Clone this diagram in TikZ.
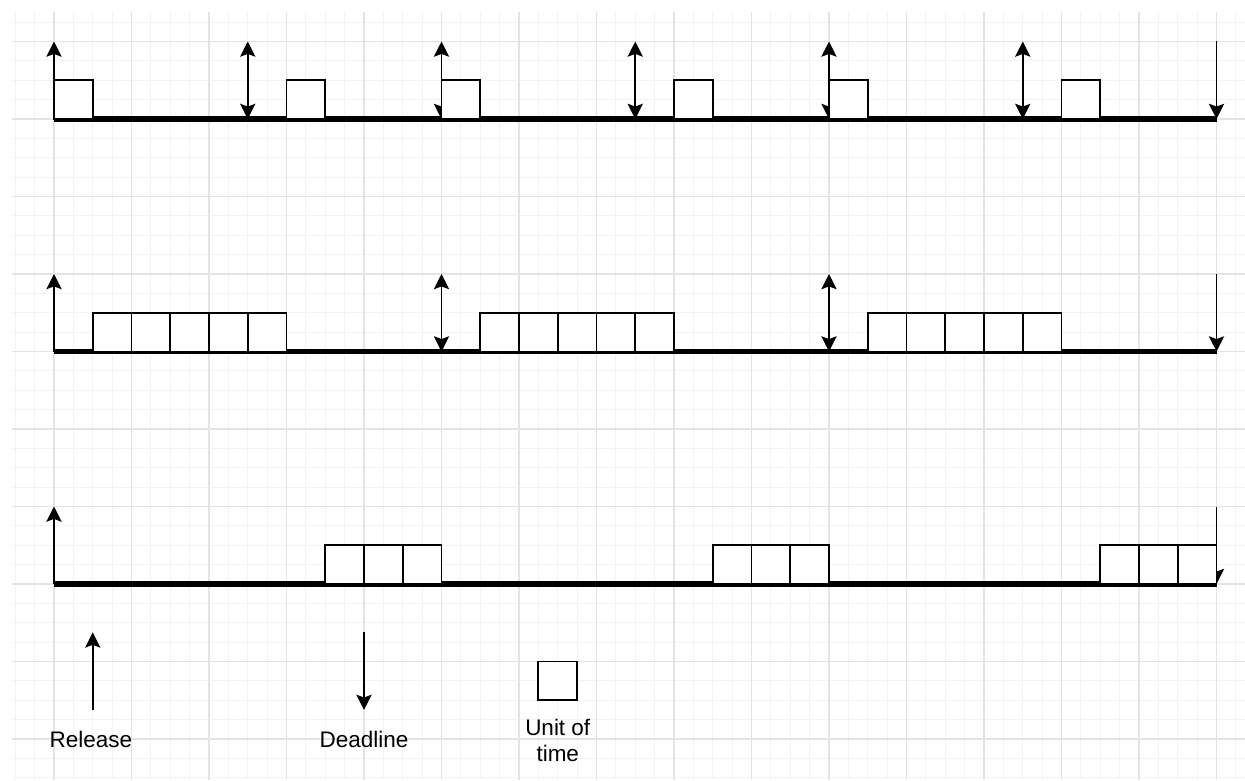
\documentclass[tikz,border=0pt]{standalone}
\usepackage{fontspec}
\setmainfont{Liberation Sans}
\usetikzlibrary{arrows.meta}
\definecolor{gmaj}{HTML}{E4E4E4}
\definecolor{gmin}{HTML}{F3F3F3}
\begin{document}
\begin{tikzpicture}[x=0.96875cm,y=0.96875cm,
  minorgrid/.style={draw=gmin, line width=0.025cm},
  majorgrid/.style={draw=gmaj, line width=0.03cm},
  axisline/.style={line width=0.13cm},
  tick/.style={line width=0.045cm, -{Stealth[length=0.38cm,width=0.38cm,inset=0.07cm]}},
  dtick/.style={line width=0.045cm, {Stealth[length=0.38cm,width=0.38cm,inset=0.07cm]}-{Stealth[length=0.38cm,width=0.38cm,inset=0.07cm]}},
  unitbox/.style={draw=black, fill=white, line width=0.045cm},
  lbl/.style={font=\fontsize{16}{19}\selectfont, anchor=base, inner sep=0pt, text=black}]
\useasboundingbox (-1.3935,-17.058) rectangle (30.735,3.071);
\fill[white] (-1.3935,-17.058) rectangle (30.735,3.071);
% grid
\draw[minorgrid] (-1.0839,-17.058) grid[step=0.5] (30.735,2.7613);
\draw[majorgrid] (-1.0839,-17.058) grid[step=2] (30.735,2.7613);
% ---- row 1
\draw[axisline] (0,0) -- (30,0);
\draw[tick] (0,0) -- (0,2);
\foreach \t in {5,10,15,20,25} \draw[dtick] (\t,0) -- (\t,2);
\draw[tick] (30,2) -- (30,0);
\foreach \t in {0,6,10,16,20,26} \draw[unitbox] (\t,0) rectangle ++(1,1);
% ---- row 2
\draw[axisline] (0,-6) -- (30,-6);
\draw[tick] (0,-6) -- (0,-4);
\foreach \t in {10,20} \draw[dtick] (\t,-6) -- (\t,-4);
\draw[tick] (30,-4) -- (30,-6);
\foreach \t in {1,2,3,4,5,11,12,13,14,15,21,22,23,24,25} \draw[unitbox] (\t,-6) rectangle ++(1,1);
% ---- row 3
\draw[axisline] (0,-12) -- (30,-12);
\draw[tick] (0,-12) -- (0,-10);
\draw[tick] (30,-10) -- (30,-12);
\foreach \t in {7,8,9,17,18,19,27,28,29} \draw[unitbox] (\t,-12) rectangle ++(1,1);
% ---- legend
\coordinate (relB) at (1,-15.25);
\coordinate (relT) at (1,-13.25);
\coordinate (dlT) at (8,-13.25);
\coordinate (dlB) at (8,-15.25);
\draw[tick] (relB) -- (relT);
\draw[tick] (dlT) -- (dlB);
\draw[unitbox] (12.5,-15) rectangle (13.5,-14);
\node[lbl] (release) at (0.95,-16.23) {Release};
\node[lbl] (deadline) at (8,-16.23) {Deadline};
\node[lbl] (unitA) at (13,-15.9) {Unit of};
\node[lbl] (unitB) at (13,-16.59) {time};
\end{tikzpicture}
\end{document}
